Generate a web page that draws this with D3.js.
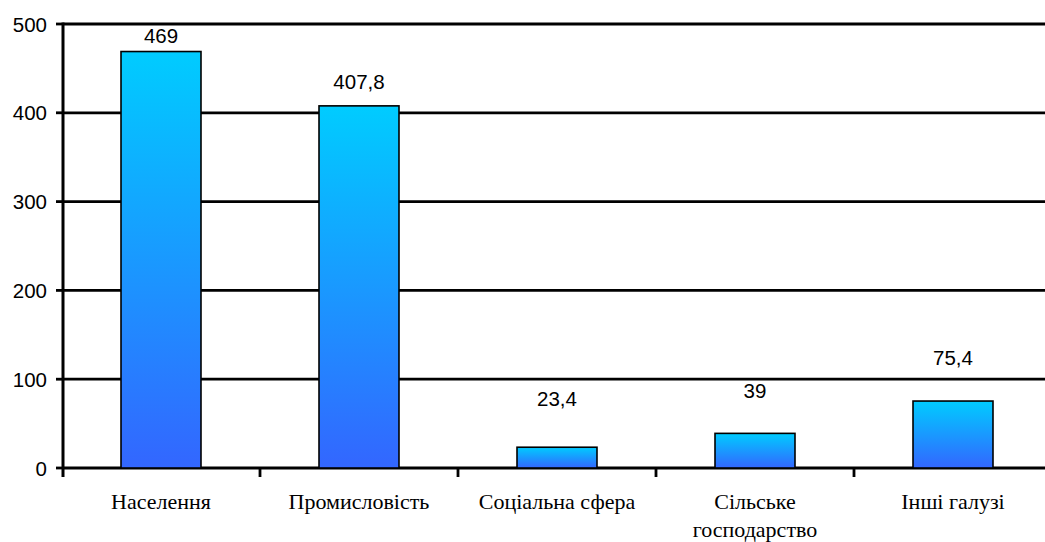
<!DOCTYPE html>
<html>
<head>
<meta charset="utf-8">
<script src="https://cdn.jsdelivr.net/npm/d3@7"></script>
<style>
  html, body { margin: 0; padding: 0; background: #fff; }
  svg { display: block; }
</style>
</head>
<body>
<svg id="chart" width="1045" height="542"></svg>
<script>
const categories = ["Населення", "Промисловість", "Соціальна сфера", "Сільське\nгосподарство", "Інші галузі"];
const values = [469, 407.8, 23.4, 39, 75.4];
const valueLabels = ["469", "407,8", "23,4", "39", "75,4"];
const yTicks = [0, 100, 200, 300, 400, 500];
// vertical gap (px) between bar top and its value label baseline
const labelGap = [8.5, 17, 41, 35.5, 36];

const svg = d3.select("#chart");
const W = 1045, H = 542;
const plotLeft = 63, plotRight = 1053, plotTop = 24, plotBottom = 468;

const x = d3.scaleBand().domain(categories).range([plotLeft - 1, plotRight - 1])
  .paddingInner(0.596).paddingOuter(0.298);
const y = d3.scaleLinear().domain([0, 500]).range([plotBottom, plotTop]);

const defs = svg.append("defs");
const grad = defs.append("linearGradient").attr("id", "barGrad")
  .attr("x1", 0).attr("y1", 0).attr("x2", 0).attr("y2", 1);
grad.append("stop").attr("offset", "0%").attr("stop-color", "#00CCFF");
grad.append("stop").attr("offset", "100%").attr("stop-color", "#3366FF");

// gridlines
svg.append("g").selectAll("line").data(yTicks).join("line")
  .attr("x1", plotLeft).attr("x2", W + 10)
  .attr("y1", d => y(d)).attr("y2", d => y(d))
  .attr("stroke", "#000").attr("stroke-width", 2.8);

// y tick marks
svg.append("g").selectAll("line").data(yTicks).join("line")
  .attr("x1", plotLeft - 7).attr("x2", plotLeft)
  .attr("y1", d => y(d)).attr("y2", d => y(d))
  .attr("stroke", "#000").attr("stroke-width", 2.8);

// y tick labels
svg.append("g").selectAll("text").data(yTicks).join("text")
  .attr("x", 47).attr("y", d => y(d) + 7.5)
  .attr("text-anchor", "end")
  .attr("font-family", "'Liberation Sans', Arial, sans-serif")
  .attr("font-size", 20.5)
  .attr("fill", "#000")
  .text(d => d);

// bars
svg.append("g").selectAll("rect").data(values).join("rect")
  .attr("x", (d, i) => x(categories[i]))
  .attr("width", x.bandwidth())
  .attr("y", d => y(d))
  .attr("height", d => y(0) - y(d))
  .attr("fill", "url(#barGrad)")
  .attr("stroke", "#000").attr("stroke-width", 1.6);

// y axis line
svg.append("line")
  .attr("x1", plotLeft).attr("x2", plotLeft)
  .attr("y1", plotTop - 1.4).attr("y2", plotBottom + 9)
  .attr("stroke", "#000").attr("stroke-width", 3);

// bottom tick marks at category boundaries
const step = x.step();
const bounds = d3.range(1, categories.length).map(i => plotLeft - 1 + i * step);
svg.append("g").selectAll("line").data(bounds).join("line")
  .attr("x1", d => d).attr("x2", d => d)
  .attr("y1", plotBottom).attr("y2", plotBottom + 9)
  .attr("stroke", "#000").attr("stroke-width", 2.8);

// value labels
svg.append("g").selectAll("text").data(values).join("text")
  .attr("x", (d, i) => x(categories[i]) + x.bandwidth() / 2)
  .attr("y", (d, i) => y(d) - labelGap[i])
  .attr("text-anchor", "middle")
  .attr("font-family", "'Liberation Sans', Arial, sans-serif")
  .attr("font-size", 20.5)
  .attr("fill", "#000")
  .text((d, i) => valueLabels[i]);

// category labels
const cat = svg.append("g").selectAll("text").data(categories).join("text")
  .attr("x", d => x(d) + x.bandwidth() / 2)
  .attr("y", 509)
  .attr("text-anchor", "middle")
  .attr("font-family", "'Liberation Serif', 'Times New Roman', serif")
  .attr("font-size", 22)
  .attr("fill", "#000");
cat.each(function(d) {
  const lines = d.split("\n");
  const t = d3.select(this);
  lines.forEach((ln, j) => {
    t.append("tspan").attr("x", x(d) + x.bandwidth() / 2)
      .attr("dy", j === 0 ? 0 : 28).text(ln);
  });
});
</script>
</body>
</html>
